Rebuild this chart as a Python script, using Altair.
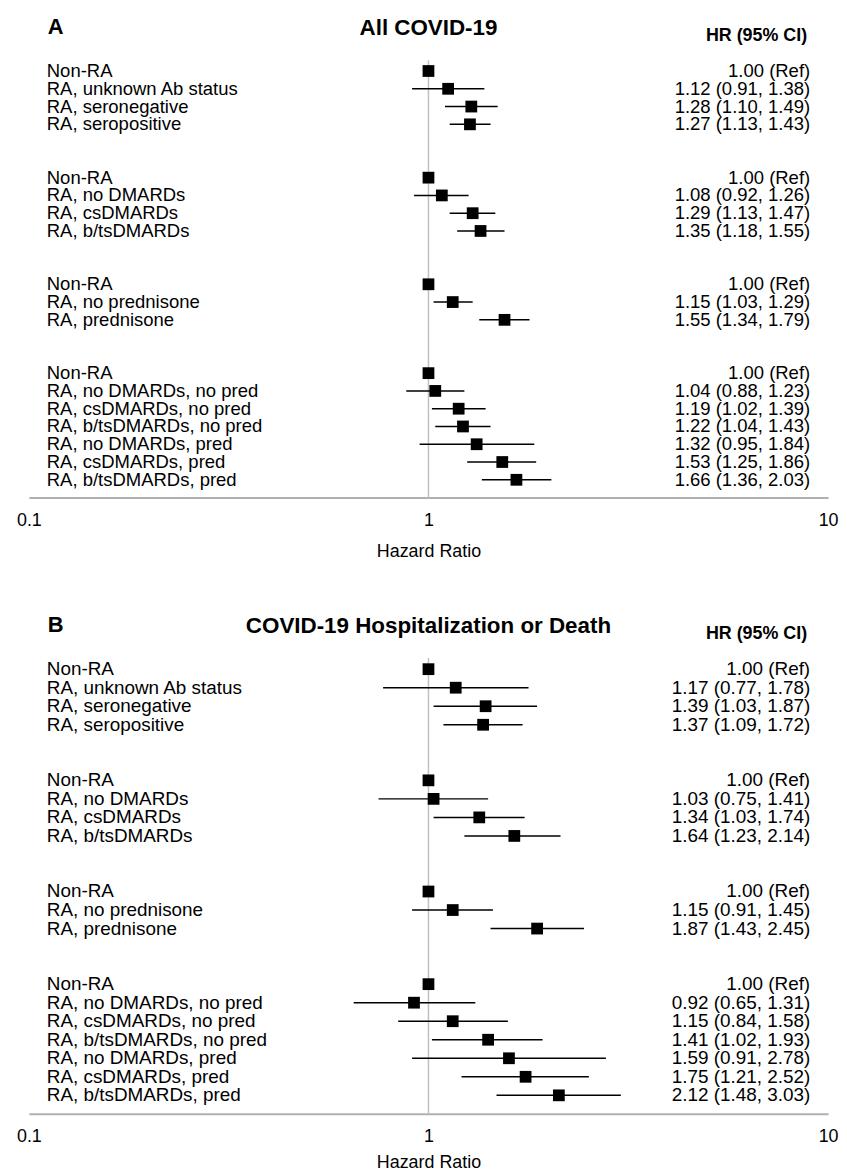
import altair as alt
import pandas as pd

FONT = "Liberation Sans, Arial, Helvetica, sans-serif"

# ---- data -------------------------------------------------------------
groups = [
    ["Non-RA", "RA, unknown Ab status", "RA, seronegative", "RA, seropositive"],
    ["Non-RA", "RA, no DMARDs", "RA, csDMARDs", "RA, b/tsDMARDs"],
    ["Non-RA", "RA, no prednisone", "RA, prednisone"],
    ["Non-RA", "RA, no DMARDs, no pred", "RA, csDMARDs, no pred",
     "RA, b/tsDMARDs, no pred", "RA, no DMARDs, pred", "RA, csDMARDs, pred",
     "RA, b/tsDMARDs, pred"],
]

hr_a = [1.00, 1.12, 1.28, 1.27, 1.00, 1.08, 1.29, 1.35, 1.00, 1.15, 1.55,
        1.00, 1.04, 1.19, 1.22, 1.32, 1.53, 1.66]
lo_a = [None, 0.91, 1.10, 1.13, None, 0.92, 1.13, 1.18, None, 1.03, 1.34,
        None, 0.88, 1.02, 1.04, 0.95, 1.25, 1.36]
hi_a = [None, 1.38, 1.49, 1.43, None, 1.26, 1.47, 1.55, None, 1.29, 1.79,
        None, 1.23, 1.39, 1.43, 1.84, 1.86, 2.03]

hr_b = [1.00, 1.17, 1.39, 1.37, 1.00, 1.03, 1.34, 1.64, 1.00, 1.15, 1.87,
        1.00, 0.92, 1.15, 1.41, 1.59, 1.75, 2.12]
lo_b = [None, 0.77, 1.03, 1.09, None, 0.75, 1.03, 1.23, None, 0.91, 1.43,
        None, 0.65, 0.84, 1.02, 0.91, 1.21, 1.48]
hi_b = [None, 1.78, 1.87, 1.72, None, 1.41, 1.74, 2.14, None, 1.45, 2.45,
        None, 1.31, 1.58, 1.93, 2.78, 2.52, 3.03]

axis_ticks = [0.1, 1, 10]
ref_value = [1.0]

GAP = 2  # blank rows between groups
W = 804


def build_rows():
    labels, rows = [], []
    r = 0
    for g in groups:
        for lab in g:
            labels.append(lab)
            rows.append(r)
            r += 1
        r += GAP
    return labels, rows


def panel(letter, title, hr, lo, hi, H, fs, title_pad):
    labels, rows = build_rows()
    last = rows[-1]
    texts = []
    for h, l, u in zip(hr, lo, hi):
        if l is None:
            texts.append(f"{h:.2f} (Ref)")
        else:
            texts.append(f"{h:.2f} ({l:.2f}, {u:.2f})")
    df = pd.DataFrame({"label": labels, "row": rows, "hr": hr, "lo": lo,
                       "hi": hi, "txt": texts})

    xscale = alt.Scale(type="log", domain=[0.1, 10])
    yscale = alt.Scale(domain=[-1, last + 1], reverse=True)
    xaxis = alt.Axis(values=axis_ticks, format="~g", ticks=False, grid=False,
                     domainColor="#b0b0b0", domainWidth=2, labelFontSize=18,
                     labelFont=FONT, labelColor="black", labelPadding=14,
                     labelFlush=False, title="Hazard Ratio", titleFont=FONT,
                     titleFontSize=18, titleFontWeight="normal",
                     titleColor="black", titlePadding=title_pad)
    y = alt.Y("row:Q", scale=yscale, axis=None)

    base = alt.Chart(df)
    refdf = pd.DataFrame({"v": ref_value, "top": [-0.6], "bot": [last + 1]})
    ref = alt.Chart(refdf).mark_rule(
        color="#c0c0c0", strokeWidth=1.5).encode(
        x=alt.X("v:Q", scale=xscale, axis=xaxis),
        y=alt.Y("top:Q", scale=yscale, axis=None), y2="bot:Q")
    ci = base.transform_filter("isValid(datum.lo)").mark_rule(
        color="black", strokeWidth=1.5).encode(
        x=alt.X("lo:Q", scale=xscale), x2="hi:Q", y=y)
    pts = base.mark_square(size=140, color="black", opacity=1).encode(
        x=alt.X("hr:Q", scale=xscale), y=y)
    lab = base.mark_text(align="left", baseline="middle", font=FONT,
                         fontSize=fs, color="black").encode(
        x=alt.value(18), y=y, text="label:N")
    hrt = base.mark_text(align="right", baseline="middle", font=FONT,
                         fontSize=fs, color="black").encode(
        x=alt.value(W - 18), y=y, text="txt:N")

    h_letter = alt.Chart(pd.DataFrame({"t": [letter]})).mark_text(
        align="left", baseline="middle", font=FONT, fontSize=22,
        fontWeight="bold", color="black").encode(
        x=alt.value(19), y=alt.value(-26), text="t:N")
    h_title = alt.Chart(pd.DataFrame({"t": [title]})).mark_text(
        align="center", baseline="middle", font=FONT, fontSize=22.5,
        fontWeight="bold", color="black").encode(
        x=alt.value(W / 2), y=alt.value(-25), text="t:N")
    h_hr = alt.Chart(pd.DataFrame({"t": ["HR (95% CI)"]})).mark_text(
        align="right", baseline="middle", font=FONT, fontSize=18,
        fontWeight="bold", color="black").encode(
        x=alt.value(W - 21), y=alt.value(-17), text="t:N")

    return alt.layer(ref, ci, pts, lab, hrt, h_letter, h_title, h_hr).properties(
        width=W, height=H)


pa = panel("A", "All COVID-19", hr_a, lo_a, hi_a, 447, 18.6, 13)
pb = panel("B", "COVID-19 Hospitalization or Death", hr_b, lo_b, hi_b,
           466, 19, 8)

chart = alt.vconcat(pa, pb, spacing=54).properties(
    padding={"left": 8, "right": 0, "top": 5, "bottom": 0}
).configure_view(stroke=None)

chart.save("out.html", embed_options={"renderer": "svg", "actions": False})
